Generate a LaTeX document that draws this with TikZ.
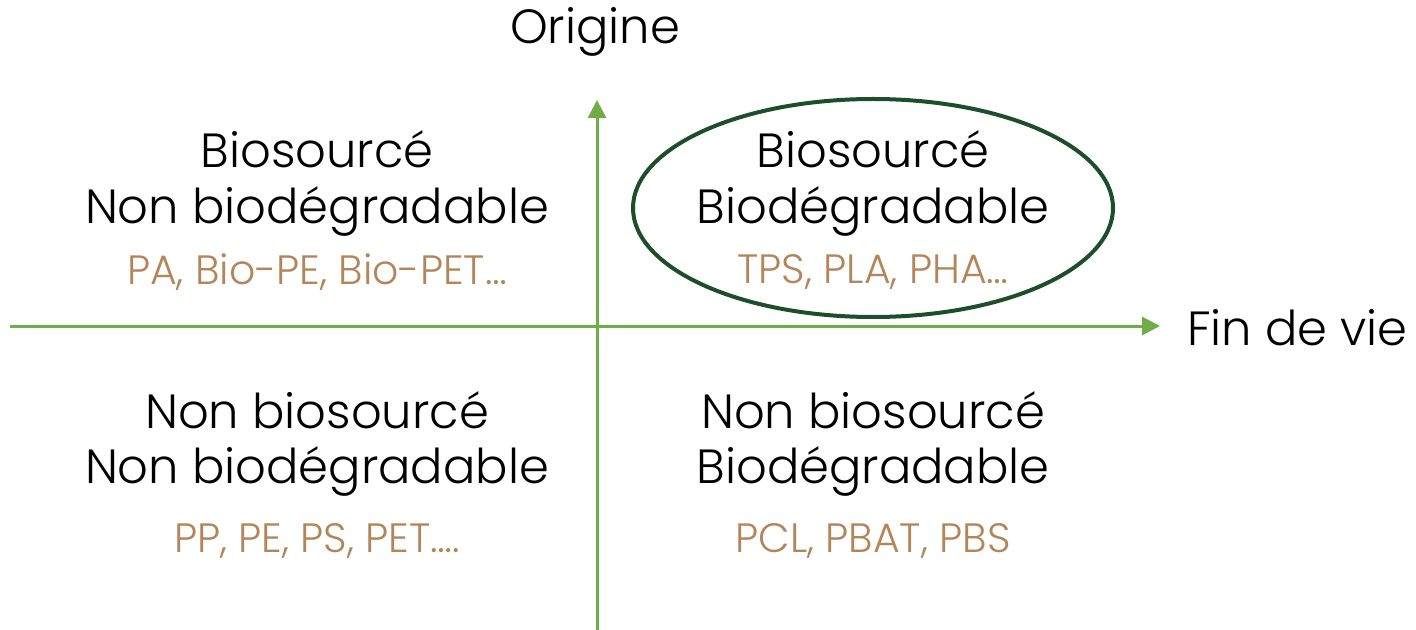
\documentclass[tikz,border=0pt]{standalone}
\usepackage{fontspec}
\setmainfont{Poppins}[UprightFont=* Light]
\usetikzlibrary{arrows.meta,shapes.geometric}
\definecolor{axisgreen}{HTML}{70AD47}
\definecolor{darkgreen}{HTML}{1E4D2B}
\definecolor{tan}{HTML}{B3855A}
\tikzset{
  axis/.style={draw=axisgreen, line width=1.5pt, -{Triangle[length=9pt,width=9pt]}},
  title/.style={font=\fontsize{24}{30}\selectfont, text=black, align=center},
  lbl/.style={font=\fontsize{24}{30}\selectfont, text=black, align=center},
  ex/.style={font=\fontsize{20.5}{24}\selectfont, text=tan},
}
\begin{document}
\begin{tikzpicture}[x=0.5pt,y=-0.5pt]
\useasboundingbox (0,0) rectangle (1416,630);
\coordinate (hl) at (10,326);
\coordinate (hr) at (1160,326);
\coordinate (vb) at (597,630);
\coordinate (vt) at (597,100);
\draw[axis] (hl) -- (hr);
\draw[axis] (vb) -- (vt);
\node[title] (origine) at (595,32) {Origine};
\node[title, anchor=west] (fin) at (1180,328) {Fin de vie};
\node[draw=darkgreen, line width=2pt, ellipse, minimum width=240pt, minimum height=109pt] (ell) at (873,208) {};
\node[lbl] (ul1) at (317,149) {Biosourcé};
\node[lbl] (ul2) at (317,211) {Non biodégradable};
\node[ex] (ul3) at (317,272) {PA, Bio-PE, Bio-PET…};
\node[lbl] (ur1) at (873,149) {Biosourcé};
\node[lbl] (ur2) at (873,211) {Biodégradable};
\node[ex] (ur3) at (873,272) {TPS, PLA, PHA…};
\node[lbl] (ll1) at (317,410) {Non biosourcé};
\node[lbl] (ll2) at (317,471) {Non biodégradable};
\node[ex] (ll3) at (317,541) {PP, PE, PS, PET….};
\node[lbl] (lr1) at (873,410) {Non biosourcé};
\node[lbl] (lr2) at (873,471) {Biodégradable};
\node[ex] (lr3) at (873,541) {PCL, PBAT, PBS};
\end{tikzpicture}
\end{document}
